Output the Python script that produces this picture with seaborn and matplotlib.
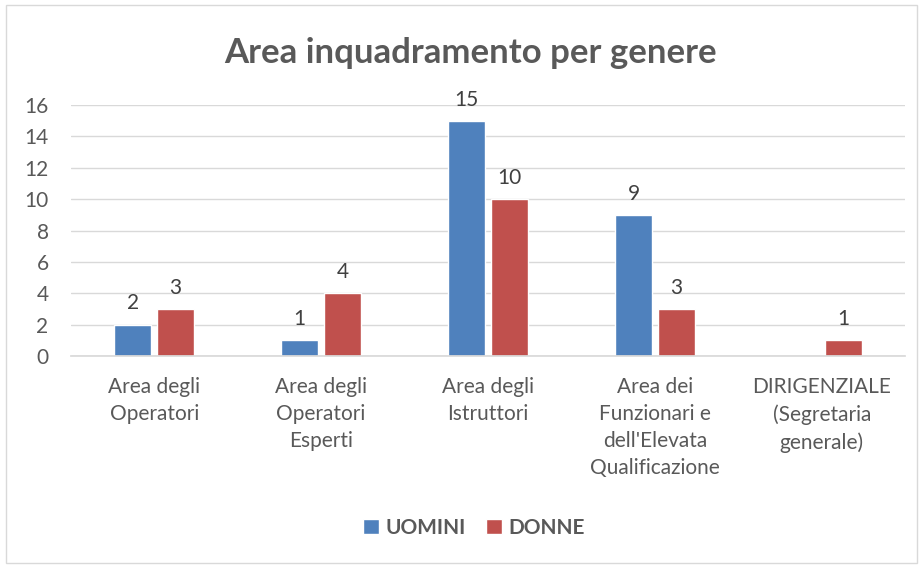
import matplotlib

matplotlib.use("Agg")
import matplotlib.pyplot as plt
import numpy as np
import pandas as pd
import seaborn as sns
from matplotlib.patches import Rectangle

categories = [
    "Area degli\nOperatori",
    "Area degli\nOperatori\nEsperti",
    "Area degli\nIstruttori",
    "Area dei\nFunzionari e\ndell'Elevata\nQualificazione",
    "DIRIGENZIALE\n(Segretaria\ngenerale)",
]
uomini = [2, 1, 15, 9, np.nan]
donne = [3, 4, 10, 3, 1]
series = ["UOMINI", "DONNE"]
colors = ["#4F81BD", "#C0504D"]

sns.set_theme(style="white")
plt.rcParams["font.family"] = ["Lato", "DejaVu Sans"]

df = pd.DataFrame({
    "cat": categories * 2,
    "genere": [series[0]] * 5 + [series[1]] * 5,
    "val": uomini + donne,
}).dropna()

fig = plt.figure(figsize=(9.19, 5.65), dpi=100)
ax = fig.add_axes([0.077, 0.370, 0.908, 0.444])

sns.barplot(data=df, x="cat", y="val", hue="genere", order=categories,
            hue_order=series, palette=colors, width=0.51, gap=0.13,
            saturation=1, ax=ax, legend=True)

for c in ax.containers:
    ax.bar_label(c, fmt="%g", padding=8, fontsize=15, color="#404040")

ax.set_ylim(0, 16)
ax.set_yticks(range(0, 17, 2))
ax.yaxis.grid(True, color="#D9D9D9", linewidth=1)
ax.set_axisbelow(True)
for s in ["top", "right", "left"]:
    ax.spines[s].set_visible(False)
ax.spines["bottom"].set_color("#D9D9D9")
ax.tick_params(axis="y", length=0, pad=16, labelsize=15,
               labelcolor="#595959")
ax.tick_params(axis="x", length=0, pad=15, labelsize=15,
               labelcolor="#595959")
for t in ax.get_xticklabels():
    t.set_linespacing(1.45)
ax.set_xlabel("")
ax.set_ylabel("")

fig.suptitle("Area inquadramento per genere", x=0.512, y=0.935,
             fontsize=25, fontweight="bold", color="#595959")

ax.legend(loc="center", bbox_to_anchor=(0.483, -0.685), ncol=2,
          frameon=False, handlelength=0.75, handleheight=0.75,
          handletextpad=0.3, columnspacing=1.0,
          prop={"weight": "bold", "size": 15})
for t in ax.get_legend().get_texts():
    t.set_color("#595959")

fig.patches.append(Rectangle((0.006, 0.004), 0.992, 0.987,
                             transform=fig.transFigure, fill=False,
                             edgecolor="#D9D9D9", linewidth=1))

fig.savefig("out.png", dpi=100)
